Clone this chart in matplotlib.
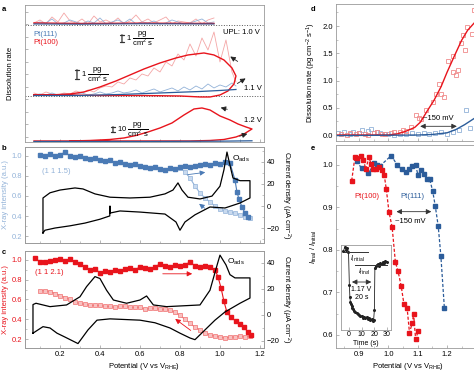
import numpy as np
import matplotlib
matplotlib.use("Agg")
import matplotlib.pyplot as plt
from matplotlib.ticker import MultipleLocator, NullFormatter

plt.rcParams['font.family'] = ['Liberation Sans', 'DejaVu Sans']
plt.rcParams['mathtext.fontset'] = 'custom'
plt.rcParams['mathtext.rm'] = 'Liberation Sans'
plt.rcParams['mathtext.it'] = 'Liberation Sans:italic'

RED = '#e8141c'
LRED = '#f4a6a6'
BLUE = '#2b5c9a'
LBLUE = '#92b2d8'
SQBLUE = '#4a7ab5'
GREY = '#9a9a9a'

# ---- panel a : dissolution traces (y in offset units) ----
top_x = [0.07,0.10,0.13,0.16,0.19,0.22,0.25,0.28,0.31,0.34,0.37,0.40,0.43,0.46,0.49,0.52,
         0.55,0.58,0.61,0.64,0.67,0.70,0.73,0.76,0.79,0.82,0.85,0.88,0.91,0.94,0.97]
top_red_noisy = [2,5,1,8,3,12,4,2,6,1,9,3,5,2,7,1,4,10,3,6,2,5,8,1,4,3,2,6,1,5,7]
top_blue_noisy = [1,3,2,6,1,2,5,3,1,4,2,7,1,3,5,2,6,1,3,2,4,1,2,5,3,1,2,4,6,2,3]
top_sm_x = [0.07,0.3,0.6,0.97]
top_sm_red = [2.0,1.5,1.8,1.5]
top_sm_blue = [1.0,0.8,1.2,1.0]

mid_x = [0.07,0.10,0.13,0.16,0.19,0.22,0.25,0.28,0.31,0.34,0.37,0.40,0.43,0.46,0.49,0.52,
         0.55,0.58,0.61,0.64,0.67,0.70,0.73,0.76,0.79,0.82,0.85,0.88,0.91,0.94,0.97,1.00,
         1.03,1.06,1.08]
mid_red_noisy = [3,1,4,2,1,3,2,5,3,6,4,8,10,9,14,12,18,16,22,20,28,24,34,30,42,36,52,40,
                 58,46,64,34,56,24,14]
mid_blue_noisy = [1,2,1,3,1,2,1,2,3,1,2,4,2,3,5,3,4,6,3,5,7,4,6,8,5,9,6,10,7,12,8,11,9,
                  13,10]
mid_loop_x = [0.07,0.2,0.4,0.6,0.8,0.9,0.95,1.0,1.04,1.07,1.08,1.06,1.02,0.97,0.92,0.88,
              0.84,0.78,0.7,0.62,0.55,0.48,0.4,0.32,0.25,0.15,0.07]
mid_loop_y = [1,1,0.5,0.5,0,-1,-1,1,5,12,20,28,36,41,43,42,41,38,33,27,21,15,9,4,2,1,1]
mid_blue_x = [0.07,0.3,0.5,0.7,0.9,1.0,1.08]
mid_blue_y = [0.5,0.5,1.5,3,4.5,5.5,6.5]

bot_loop_x = [0.07,0.3,0.6,0.85,0.95,1.02,1.08,1.12,1.16,1.13,1.09,1.05,1.0,0.95,0.91,
              0.87,0.82,0.76,0.7,0.64,0.58,0.52,0.45,0.35,0.25]
bot_loop_y = [0,0,0,0,0.5,1.5,4,7,12,14,17,21,25,31,33,32,26,18,13,9,5.5,3,1.5,0.5,0]
bot_blue_x = [0.07,0.6,1.0,1.16]
bot_blue_y = [0.5,0.5,0.8,1.2]

# ---- panel b : Pt(111) ----
b_fwd_x = [0.1,0.125,0.15,0.175,0.2,0.225,0.25,0.275,0.3,0.325,0.35,0.375,0.4,0.425,0.45,
           0.475,0.5,0.525,0.55,0.575,0.6,0.625,0.65,0.675,0.7,0.725,0.75,0.775,0.8,0.825,
           0.85,0.875,0.9,0.925,0.95,0.975,1.0,1.025,1.05,1.075,1.085,1.095,1.11,1.125,1.14]
b_fwd_y = [1.01,1.0,1.02,1.0,1.01,1.04,1.0,0.99,1.0,0.98,0.97,0.98,0.96,0.95,0.96,0.93,
           0.94,0.92,0.91,0.92,0.9,0.89,0.88,0.89,0.87,0.86,0.88,0.87,0.89,0.9,0.89,0.9,
           0.91,0.92,0.91,0.93,0.92,0.94,0.93,0.76,0.64,0.57,0.49,0.43,0.39]
b_rev_x = [1.15,1.125,1.1,1.075,1.05,1.025,1.0,0.975,0.95,0.925,0.9,0.875,0.85,0.825,0.8]
b_rev_y = [0.38,0.39,0.41,0.43,0.44,0.45,0.47,0.5,0.54,0.58,0.63,0.7,0.78,0.84,0.88]
b_cv_x = [0.115,0.115,0.15,0.2,0.275,0.315,0.375,0.45,0.55,0.65,0.725,0.765,0.79,0.81,0.84,
          0.9,0.96,1.0,1.02,1.035,1.05,1.065,1.1,1.15,1.15,1.1,1.025,0.95,0.875,0.825,0.8,
          0.78,0.725,0.6,0.5,0.45,0.45,0.449,0.4,0.325,0.25,0.175,0.125,0.115]
b_cv_y = [-24.5,7.3,12,14.5,16.4,15.5,11,8,7.3,8,11,14.5,21,14.5,8,6.4,9,18,33,49,37,25.5,
          23,23,7.3,2.7,-1.8,-0.9,-8,-14.5,-22,-14.5,-7.3,-5.5,-4.5,-6.4,0,-9,-12,-15.5,
          -18,-20,-22,-24.5]

# ---- panel c : Pt(100) ----
c_fwd_x = [0.075,0.1,0.125,0.15,0.175,0.2,0.225,0.25,0.275,0.3,0.325,0.35,0.375,0.4,0.425,
           0.45,0.475,0.5,0.525,0.55,0.575,0.6,0.625,0.65,0.675,0.7,0.725,0.75,0.775,0.8,
           0.825,0.85,0.875,0.9,0.925,0.95,0.975,0.99,1.005,1.02,1.035,1.055,1.08,1.1,1.12,
           1.14,1.155]
c_fwd_y = [1.02,0.98,0.98,0.99,1.0,1.01,0.99,1.01,0.98,0.96,0.93,0.9,0.91,0.87,0.89,0.88,
           0.9,0.89,0.91,0.92,0.9,0.93,0.92,0.91,0.93,0.96,0.94,0.93,0.95,0.94,0.95,0.98,
           0.94,0.93,0.94,0.93,0.9,0.83,0.72,0.58,0.47,0.42,0.38,0.35,0.32,0.27,0.24]
c_rev_x = [1.15,1.125,1.1,1.075,1.05,1.025,1.0,0.975,0.95,0.925,0.9,0.875,0.85,0.825,0.8,
           0.775,0.75,0.725,0.7,0.675,0.65,0.625,0.6,0.575,0.55,0.525,0.5,0.475,0.45,0.425,
           0.4,0.375,0.35,0.325,0.3,0.275,0.25,0.225,0.2,0.175,0.15,0.125,0.1]
c_rev_y = [0.23,0.22,0.23,0.22,0.22,0.21,0.22,0.23,0.24,0.26,0.29,0.32,0.36,0.4,0.44,0.47,
           0.49,0.5,0.5,0.51,0.51,0.5,0.52,0.52,0.52,0.53,0.53,0.52,0.53,0.53,0.54,0.54,
           0.54,0.55,0.56,0.57,0.6,0.62,0.64,0.66,0.68,0.69,0.69]
c_cv_x = [0.065,0.065,0.08,0.15,0.233,0.3,0.333,0.375,0.4,0.433,0.467,0.533,0.6,0.633,0.667,
          0.733,0.9,0.95,0.983,1.0,1.03,1.05,1.075,1.15,1.15,1.1,1.025,0.975,0.925,0.875,
          0.85,0.8,0.75,0.675,0.6,0.45,0.385,0.34,0.29,0.225,0.185,0.15,0.115,0.065]
c_cv_y = [-14,8,9,6.4,7.7,14,21.8,29.5,28,19,11.5,9,11.5,14.6,7.7,6.4,7.7,19,37,46,38.5,31,
          28.5,28.5,13,9,2.3,-4,-11.5,-19,-17.7,-14,-10,-6,-4,-3,-4,-11.5,-22,-17,-14,-10,
          -9,-14]

# ---- panel d : dissolution rate vs potential ----
d_red_x = [0.84,0.86,0.87,0.89,0.9,0.92,0.93,0.95,0.96,0.98,0.99,1.01,1.02,1.04,1.05,1.06,
           1.076,1.093,1.105,1.113,1.128,1.151,1.162,1.174,1.179,1.189,1.202,1.22,1.22,
           1.231,1.237,1.248,1.254,1.26,1.269,1.285,1.292]
d_red_y = [0.02,0.0,0.03,0.01,0.04,0.02,0.0,0.03,0.05,0.02,0.01,0.04,0.06,0.05,0.1,0.08,
           0.15,0.37,0.32,0.29,0.45,0.61,0.76,0.93,0.75,0.69,1.36,1.45,1.16,1.1,1.19,1.68,
           1.83,1.56,1.98,1.86,2.29]
d_blue_x = [0.83,0.85,0.87,0.88,0.9,0.91,0.93,0.94,0.96,0.97,0.99,1.0,1.02,1.04,1.06,1.08,
            1.1,1.12,1.14,1.16,1.18,1.2,1.22,1.24,1.266,1.28]
d_blue_y = [0.03,0.05,0.02,0.06,0.04,0.1,0.08,0.11,0.05,0.03,0.02,0.01,0.0,0.02,0.01,0.03,
            0.02,0.04,0.01,0.03,0.05,0.02,0.06,0.09,0.46,0.12]
d_red_fit_x = [0.82,1.0,1.03,1.06,1.09,1.11,1.13,1.156,1.18,1.2,1.225,1.25,1.27,1.3]
d_red_fit_y = [0,0,0.02,0.07,0.14,0.24,0.42,0.64,0.89,1.15,1.45,1.74,1.92,2.1]
d_blue_fit_x = [0.82,1.1,1.15,1.2,1.23,1.26,1.3]
d_blue_fit_y = [-0.01,0,0.01,0.04,0.1,0.19,0.33]

# ---- panel e : I_final / I_initial ----
e_red_x = [0.875,0.886,0.894,0.906,0.915,0.923,0.934,0.941,0.949,0.959,0.968,0.978,0.986,
           0.993,1.002,1.013,1.024,1.033,1.044,1.053,1.064,1.072,1.082,1.086,1.093,1.102]
e_red_y = [0.963,1.018,1.016,1.022,1.012,0.99,1.018,1.002,0.99,0.99,0.994,0.988,0.976,
           0.943,0.89,0.853,0.771,0.75,0.714,0.673,0.663,0.605,0.629,0.65,0.59,0.609]
e_blue_x = [0.892,0.909,0.932,0.952,0.962,0.972,1.01,1.03,1.045,1.059,1.07,1.082,1.093,
            1.101,1.11,1.12,1.131,1.141,1.151,1.16,1.17,1.179,1.191]
e_blue_y = [1.009,0.992,0.98,1.004,1.0,0.998,1.022,1.0,0.99,0.984,0.99,0.998,1.0,0.976,
            0.987,0.978,0.966,0.966,0.939,0.903,0.856,0.786,0.663]

# inset transient
ins_t = [-4.5,-3.5,-2.5,-1.5,-0.5,0.2,0.6,1.0,1.5,2,2.5,3,4,5,6,7,8,9,10,11,12,13,14,15,16,
         17,18,19,19.6,20.2,20.6,21.2,22,23,24,25,26,27,28,29,30]
ins_y = [79,83,80,82,78,45,33,28,26,24,22,21,19,18,17,16,15,14,14,12,13,12,13,11,12,10,11,
         9,10,20,62,64,65,66,64,67,66,68,67,69,68]

FS = 5.5


def style(ax):
    for s in ax.spines.values():
        s.set_color(GREY)
        s.set_linewidth(0.6)
    ax.tick_params(direction='in', length=2, width=0.5, color=GREY, labelsize=FS, pad=2)
    ax.tick_params(which='minor', direction='in', length=1.2, width=0.4, color=GREY)


fig = plt.figure(figsize=(4.74, 3.71), dpi=100)

# ================= a =================
ax = fig.add_axes([0.0527, 0.6173, 0.5042, 0.3693])
style(ax)
ax.set_xlim(0.025, 1.22)
ax.set_ylim(0, 137)
ax.set_yticks(np.arange(5, 137, 12.5))
ax.yaxis.set_major_formatter(NullFormatter())
ax.xaxis.set_major_locator(MultipleLocator(0.1))
ax.xaxis.set_major_formatter(NullFormatter())
ax.axhline(117, color='#555555', ls=':', lw=0.7)
ax.axhline(46, color='#555555', ls=':', lw=0.7)
ax.plot(top_x, [117 + v for v in top_red_noisy], color=LRED, lw=0.6)
ax.plot(top_x, [117 + v for v in top_blue_noisy], color=LBLUE, lw=0.6)
ax.plot(top_sm_x, [117 + v for v in top_sm_red], color=RED, lw=1.0)
ax.plot(top_sm_x, [117 + v for v in top_sm_blue], color=BLUE, lw=0.8)
ax.plot(mid_x, [46 + v for v in mid_red_noisy], color=LRED, lw=0.6)
ax.plot(mid_x, [46 + v for v in mid_blue_noisy], color=LBLUE, lw=0.6)
ax.plot(mid_loop_x, [46 + v for v in mid_loop_y], color=RED, lw=1.0)
ax.plot(mid_blue_x, [46 + v for v in mid_blue_y], color=BLUE, lw=0.9)
ax.plot(bot_loop_x, [1 + v for v in bot_loop_y], color=RED, lw=1.0)
ax.plot(bot_blue_x, bot_blue_y, color=BLUE, lw=0.9)
ax.set_ylabel('Dissolution rate', fontsize=FS, labelpad=6)
ax.text(0.065, 107, 'Pt(111)', color=SQBLUE, fontsize=FS, va='center')
ax.text(0.065, 99, 'Pt(100)', color=RED, fontsize=FS, va='center')
ax.text(1.015, 109, 'UPL: 1.0 V', fontsize=FS, va='center')
ax.text(1.12, 53, '1.1 V', fontsize=FS, va='center')
ax.text(1.12, 21, '1.2 V', fontsize=FS, va='center')
bar = dict(arrowstyle='|-|,widthA=0.12,widthB=0.12', color='#333333', lw=0.9)
for bx, y0, y1, lab in [(0.51, 97, 110, '1'), (0.285, 60, 75, '1'), (0.465, 7, 18, '10')]:
    ax.annotate('', xy=(bx, y1), xytext=(bx, y0), arrowprops=bar)
    ax.text(bx + 0.02, (y0 + y1) / 2, r'%s $\dfrac{\mathrm{pg}}{\mathrm{cm^{2}\ s}}$' % lab,
            fontsize=5.5, va='center')
arr = dict(arrowstyle='-|>,head_length=0.3,head_width=0.15', color='#222222', lw=0.6)
ax.annotate('', xy=(1.04, 87), xytext=(1.1, 79), arrowprops=arr)
ax.annotate('', xy=(1.14, 65), xytext=(1.075, 57), arrowprops=arr)
ax.annotate('', xy=(0.99, 35), xytext=(1.05, 32), arrowprops=arr)
ax.annotate('', xy=(1.15, 9), xytext=(1.085, 5), arrowprops=arr)

# ================= b =================
ax = fig.add_axes([0.0527, 0.345, 0.5042, 0.2588])
style(ax)
ax.set_xlim(0.025, 1.22)
ax.set_ylim(0.13, 1.09)
ax.yaxis.set_major_locator(MultipleLocator(0.2))
ax.yaxis.set_minor_locator(MultipleLocator(0.1))
ax.xaxis.set_major_locator(MultipleLocator(0.2))
ax.xaxis.set_minor_locator(MultipleLocator(0.1))
ax.xaxis.set_major_formatter(NullFormatter())
ax.tick_params(axis='y', labelcolor=LBLUE)
ax.set_ylabel('X-ray intensity (a.u.)', fontsize=FS, color=LBLUE, labelpad=2)
ax.plot(b_rev_x, b_rev_y, color=LBLUE, lw=0.8, marker='s', ms=2.6, mfc='#c9daef',
        mec=LBLUE, mew=0.5)
ax.plot(b_fwd_x, b_fwd_y, color=SQBLUE, lw=0.8, marker='s', ms=3, mfc=SQBLUE, mec=SQBLUE)
ax.text(0.11, 0.84, '(1 1 1.5)', color=LBLUE, fontsize=FS, va='center')
ax.text(1.06, 0.97, r'O$_{\mathrm{ads}}$', fontsize=FS + 0.5, va='center')
barr = dict(arrowstyle='-|>,head_length=0.3,head_width=0.15', color=SQBLUE, lw=0.6)
ax.annotate('', xy=(0.94, 0.84), xytext=(0.825, 0.81), arrowprops=barr)
ax.annotate('', xy=(0.885, 0.54), xytext=(0.935, 0.46), arrowprops=barr)
ax2 = ax.twinx()
style(ax2)
ax2.set_ylim(-33.6, 53.6)
ax2.yaxis.set_major_locator(MultipleLocator(20))
ax2.yaxis.set_minor_locator(MultipleLocator(10))
ax2.plot(b_cv_x, b_cv_y, color='black', lw=0.9)
ax2.set_ylabel(r'Current density ($\mu$A cm$^{-2}$)', fontsize=FS, rotation=270, labelpad=9)

# ================= c =================
ax = fig.add_axes([0.0527, 0.062, 0.5042, 0.2615])
style(ax)
ax.set_xlim(0.025, 1.22)
ax.set_ylim(0.109, 1.091)
ax.yaxis.set_major_locator(MultipleLocator(0.2))
ax.yaxis.set_minor_locator(MultipleLocator(0.1))
ax.xaxis.set_major_locator(MultipleLocator(0.2))
ax.xaxis.set_minor_locator(MultipleLocator(0.1))
ax.tick_params(axis='y', labelcolor=RED)
ax.set_ylabel('X-ray intensity (a.u.)', fontsize=FS, color=RED, labelpad=2)
ax.set_xlabel(r'Potential (V vs V$_{\mathrm{RHE}}$)', fontsize=FS, labelpad=2)
ax.plot(c_rev_x, c_rev_y, color='#f07070', lw=0.8, marker='s', ms=2.6, mfc='#f8c0c0',
        mec='#f07070', mew=0.5)
ax.plot(c_fwd_x, c_fwd_y, color=RED, lw=0.8, marker='s', ms=3, mfc=RED, mec=RED)
ax.text(0.075, 0.87, '(1 1 2.1)', color=RED, fontsize=FS, va='center')
ax.text(1.035, 0.98, r'O$_{\mathrm{ads}}$', fontsize=FS + 0.5, va='center')
rarr = dict(arrowstyle='-|>,head_length=0.3,head_width=0.15', color=RED, lw=0.6)
ax.annotate('', xy=(0.875, 0.86), xytext=(0.7, 0.86), arrowprops=rarr)
ax.annotate('', xy=(0.765, 0.42), xytext=(0.865, 0.27), arrowprops=rarr)
ax2 = ax.twinx()
style(ax2)
ax2.set_ylim(-25.4, 49.2)
ax2.yaxis.set_major_locator(MultipleLocator(20))
ax2.yaxis.set_minor_locator(MultipleLocator(10))
ax2.plot(c_cv_x, c_cv_y, color='black', lw=0.9)
ax2.set_ylabel(r'Current density ($\mu$A cm$^{-2}$)', fontsize=FS, rotation=270, labelpad=9)

# ================= d =================
ax = fig.add_axes([0.7089, 0.6199, 0.3038, 0.3693])
style(ax)
ax.set_xlim(0.8216, 1.3125)
ax.set_ylim(-0.11, 2.404)
ax.yaxis.set_major_locator(MultipleLocator(0.5))
ax.yaxis.set_minor_locator(MultipleLocator(0.25))
ax.xaxis.set_major_locator(MultipleLocator(0.1))
ax.xaxis.set_minor_locator(MultipleLocator(0.05))
ax.xaxis.set_major_formatter(NullFormatter())
ax.plot(d_blue_x, d_blue_y, ls='none', marker='s', ms=3.2, mfc='none', mec=LBLUE, mew=0.6)
ax.plot(d_red_x, d_red_y, ls='none', marker='s', ms=3.2, mfc='none', mec='#f08a8a', mew=0.6)
ax.plot(d_red_fit_x, d_red_fit_y, color=RED, lw=1.0)
ax.plot(d_blue_fit_x, d_blue_fit_y, color=BLUE, lw=1.0)
ax.set_ylabel(r'Dissolution rate (pg cm$^{-2}$ s$^{-1}$)', fontsize=FS, labelpad=3)
garr = dict(arrowstyle='<|-|>,head_length=0.3,head_width=0.15', color='#333333', lw=0.6)
ax.annotate('', xy=(1.243, 0.16), xytext=(1.099, 0.16), arrowprops=garr)
ax.text(1.172, 0.3, '~150 mV', fontsize=FS, ha='center', va='center')

# ================= e =================
ax = fig.add_axes([0.7089, 0.062, 0.3038, 0.5472])
style(ax)
ax.set_xlim(0.8216, 1.3125)
ax.set_ylim(0.569, 1.047)
ax.yaxis.set_major_locator(MultipleLocator(0.1))
ax.yaxis.set_minor_locator(MultipleLocator(0.05))
ax.set_xticks([0.9, 1.0, 1.1, 1.2])
ax.xaxis.set_minor_locator(MultipleLocator(0.05))
ax.plot(e_blue_x, e_blue_y, color=BLUE, ls=(0, (2.5, 1.5)), lw=0.9, marker='s', ms=3.3,
        mfc=BLUE, mec=BLUE)
ax.plot(e_red_x, e_red_y, color=RED, ls=(0, (2.5, 1.5)), lw=0.9, marker='s', ms=3.3,
        mfc=RED, mec=RED)
ax.set_xlabel(r'Potential (V vs V$_{\mathrm{RHE}}$)', fontsize=FS, labelpad=2)
ax.set_ylabel(r'$I_{\mathrm{final}}$ / $I_{\mathrm{initial}}$', fontsize=FS, labelpad=3)
ax.text(0.928, 0.925, 'Pt(100)', color=RED, fontsize=FS, ha='center', va='center')
ax.text(1.083, 0.925, 'Pt(111)', color=BLUE, fontsize=FS, ha='center', va='center')
ax.annotate('', xy=(1.156, 0.89), xytext=(1.018, 0.89), arrowprops=garr)
ax.text(1.075, 0.868, '~150 mV', fontsize=FS, ha='center', va='center')

# inset
ins = fig.add_axes([0.7194, 0.1105, 0.1055, 0.2291])
style(ins)
ins.set_xlim(-6.5, 33.5)
ins.set_ylim(0, 85)
ins.set_xticks([0, 10, 20, 30])
ins.set_yticks([])
ins.tick_params(labelsize=FS - 0.5, pad=1)
ins.set_xlabel('Time (s)', fontsize=FS - 0.5, labelpad=1)
ins.plot(ins_t, ins_y, color='#222222', lw=0.6, marker='o', ms=1.2)
ins.plot([-4, 15], [78, 78], color='#333333', lw=0.7)
ins.plot([5, 30], [65, 65], color='#333333', lw=0.7)
ins.text(0.5, 71, r'$I_{\mathrm{initial}}$', fontsize=FS - 0.5, va='center')
ins.text(7, 58, r'$I_{\mathrm{final}}$', fontsize=FS - 0.5, va='center')
ins.annotate('', xy=(20, 48), xytext=(0, 48), arrowprops=garr)
ins.text(10, 41, '1.17 V', fontsize=FS - 0.5, ha='center', va='center')
ins.text(10, 33, '20 s', fontsize=FS - 0.5, ha='center', va='center')

# panel letters
for lx, ly, lt in [(0.004, 0.985, 'a'), (0.004, 0.61, 'b'), (0.004, 0.33, 'c'),
                   (0.655, 0.985, 'd'), (0.655, 0.61, 'e')]:
    fig.text(lx, ly, lt, fontsize=FS, fontweight='bold', va='top')

fig.savefig('out.png', dpi=100)
